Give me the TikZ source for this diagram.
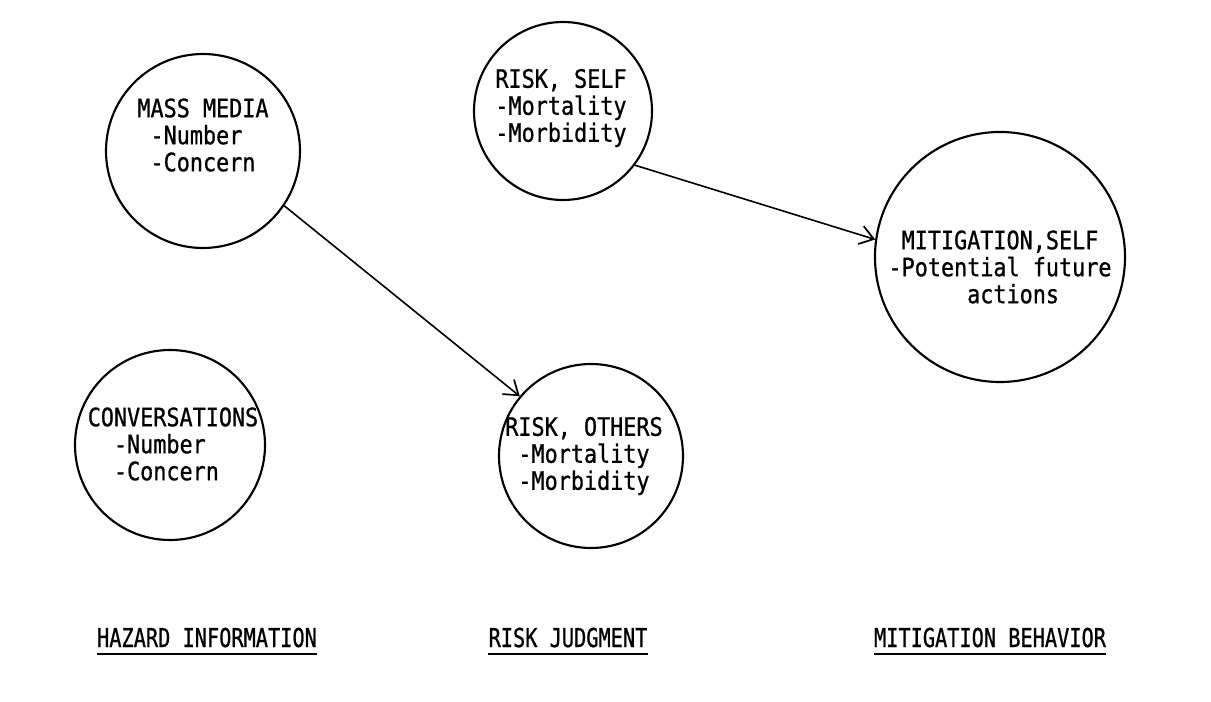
\documentclass[tikz,border=0pt]{standalone}
\usepackage{fontspec}
\usetikzlibrary{arrows.meta,calc}
\newfontfamily\tw[FakeStretch=0.86,FakeBold=0.8]{DejaVu Sans Mono}
\newfontfamily\twl[FakeStretch=0.78,FakeBold=0.8]{DejaVu Sans Mono}
\newcommand\ind{\hphantom{M}}
\begin{document}
\begin{tikzpicture}[x=0.75pt,y=-0.75pt,
  bub/.style={circle,draw,line width=1.6pt,minimum size=#1*1.5pt,inner sep=0pt},
  txt/.style={font=\tw\fontsize{19}{20.25}\selectfont,align=left,inner sep=0pt},
  lab/.style={font=\twl\fontsize{19.5}{20}\selectfont,inner sep=0pt,anchor=base},
  uline/.style={line width=1.6pt},
  conn/.style={line width=1.2pt,-{Straight Barb[length=10pt,width=14pt,line width=1.3pt]}}]
\useasboundingbox (0,0) rectangle (1211,702);
% circles
\node[bub=97] (mm) at (203,151) {};
\node[bub=95] (cv) at (170,445) {};
\node[bub=89] (rs) at (563,111) {};
\node[bub=92] (ro) at (591,456) {};
\node[bub=125] (mit) at (1000,257) {};
% texts
\node[txt] (mmt) at ($(mm)+(0,-16)$) {MASS MEDIA\\\ind-Number\\\ind-Concern};
\node[txt] (cvt) at ($(cv)+(3,-1)$) {CONVERSATIONS\\\ind\ind-Number\\\ind\ind-Concern};
\node[txt] (rst) at ($(rs)+(-2,-3)$) {RISK, SELF\\-Mortality\\-Morbidity};
\node[txt] (rot) at ($(ro)+(-7,0)$) {RISK, OTHERS\\\ind-Mortality\\\ind-Morbidity};
\node[txt] (mitt) at ($(mit)+(0,10)$) {\ind MITIGATION,SELF\\-Potential future\\\ind\ind\ind\ind\ind\ind actions};
% connectors
\draw[conn] (mm.-34) -- (ro.140);
\draw[conn] (rs.-37) -- (mit.172);
% bottom labels
\node[lab] (hz) at (207,647) {HAZARD INFORMATION};
\node[lab] (rj) at (568,647) {RISK JUDGMENT};
\node[lab] (mb) at (990,647) {MITIGATION BEHAVIOR};
\draw[uline] ($(hz.base west)+(0,7)$) -- ($(hz.base east)+(0,7)$);
\draw[uline] ($(rj.base west)+(0,7)$) -- ($(rj.base east)+(0,7)$);
\draw[uline] ($(mb.base west)+(0,7)$) -- ($(mb.base east)+(0,7)$);
\end{tikzpicture}
\end{document}
